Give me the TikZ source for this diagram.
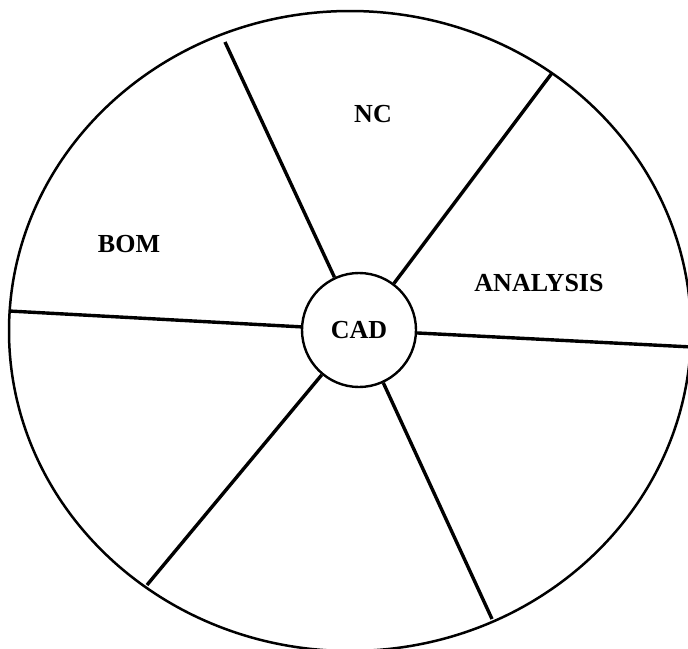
\documentclass[tikz,border=0pt]{standalone}
\usepackage{fontspec}
\setmainfont{Liberation Serif}
\usepackage{tikz}
\usetikzlibrary{positioning,calc}

\begin{document}
\begin{tikzpicture}[
  x=1pt,y=-1pt,
  hub/.style={circle,draw,line width=2.4pt,minimum size=114pt,inner sep=0pt,
              fill=white,font=\fontsize{26}{30}\selectfont\bfseries},
  rim/.style={line width=2.5pt},
  spoke/.style={line width=3.4pt},
  lbl/.style={font=\fontsize{26}{30}\selectfont\bfseries}
]
\clip (0,0) rectangle (688,648);
\fill[white] (0,0) rectangle (688,648);

\draw[rim] (350,331) ellipse [x radius=341pt, y radius=320pt];

\node[hub] (cad) at (359,330) {CAD};

% rim points where the spokes meet the wheel
\coordinate (o1) at (225,42);
\coordinate (o2) at (552,73);
\coordinate (o3) at (692,347);
\coordinate (o4) at (9,311);
\coordinate (o5) at (147,585);
\coordinate (o6) at (492,619);

\foreach \o in {o1,o2,o3,o4,o5,o6}
  \draw[spoke] (cad) -- (\o);

\node[lbl] (nc) at (373,114) {NC};
\node[lbl] (bom) at (129,244) {BOM};
\node[lbl] (ana) at (539,283) {ANALYSIS};
\end{tikzpicture}
\end{document}
